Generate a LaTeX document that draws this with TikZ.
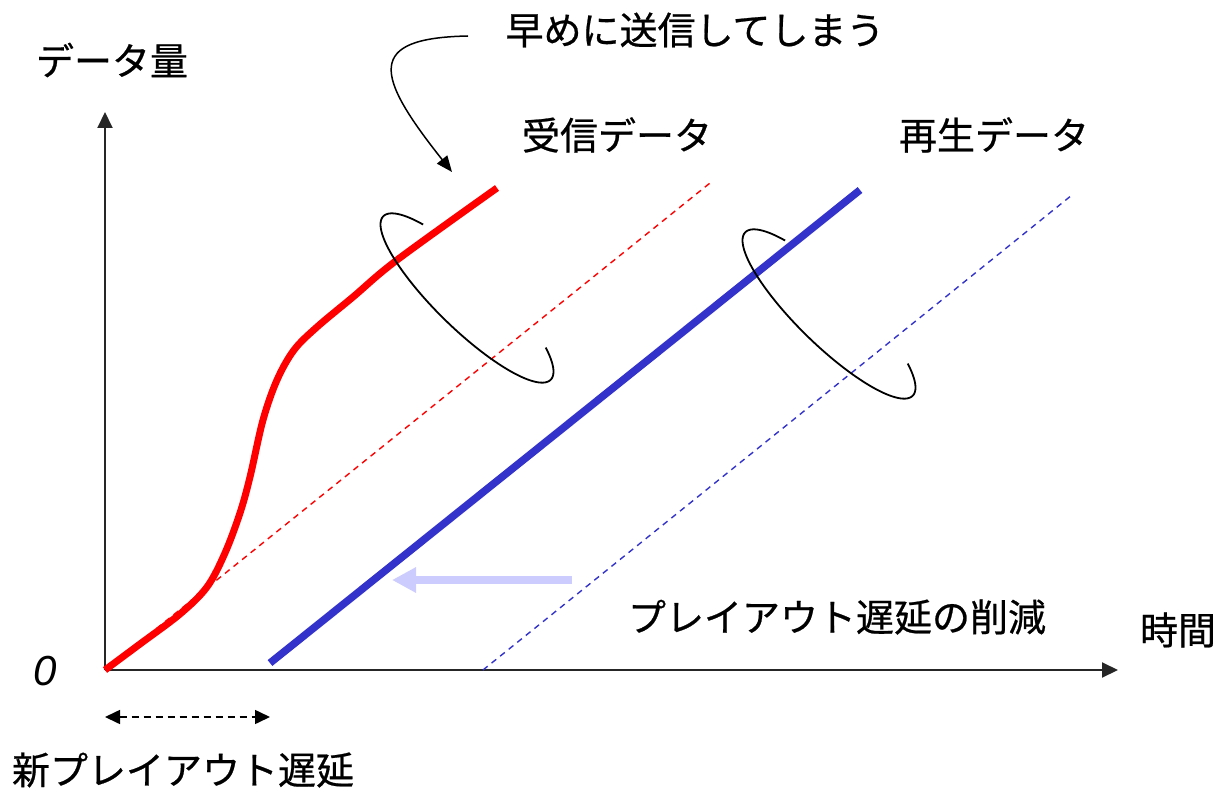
\documentclass[tikz,border=0pt]{standalone}
\usepackage{fontspec}
\newfontfamily\jp[FakeBold=0.6]{Noto Sans CJK JP}
\newfontfamily\lat{Liberation Sans}
\usetikzlibrary{arrows.meta}
\definecolor{rcol}{RGB}{255,0,0}
\definecolor{bcol}{RGB}{51,51,204}
\definecolor{lcol}{RGB}{204,204,255}
\tikzset{
  lbl/.style={font=\jp\fontsize{38}{40}\selectfont, inner sep=0pt, anchor=center},
  axis/.style={line width=2pt, draw=black!85, -{Triangle[length=16pt,width=15pt]}},
  thickred/.style={line width=7pt, draw=rcol},
  thickblue/.style={line width=7.5pt, draw=bcol},
  thinred/.style={line width=1.4pt, draw=rcol, dash pattern=on 6pt off 5pt},
  thinblue/.style={line width=1.4pt, draw=bcol, dash pattern=on 6pt off 5pt},
  ring/.style={line width=1.8pt, draw=black},
}
\begin{document}
\begin{tikzpicture}[x=1pt,y=-1pt]
\useasboundingbox (0,0) rectangle (1223,791);
% coordinates
\coordinate (O) at (105,670);
\coordinate (ytip) at (105,112);
\coordinate (xtip) at (1118,670);
\coordinate (rdEnd) at (710,183);
\coordinate (rEnd) at (497,188);
\coordinate (bS) at (270,663);
\coordinate (bE) at (860,190);
\coordinate (bdS) at (483,670);
\coordinate (bdE) at (1072,195);
\coordinate (dL) at (105,717);
\coordinate (dR) at (270,717);
\coordinate (lS) at (572,580);
\coordinate (lE) at (392,580);
\coordinate (aS) at (468,36);
\coordinate (aE) at (452,172);
% axes
\draw[axis] (O) -- (ytip);
\draw[axis] (O) -- (xtip);
% dashed lines
\draw[thinred] (O) -- (rdEnd);
\draw[thinblue] (bdS) -- (bdE);
% red curve
\draw[thickred, line cap=butt, line join=round] plot[smooth, tension=0.55] coordinates {(105,670) (140,644) (180,614) (207,587) (225,553) (240,513) (250,477) (263,420) (277,380) (294,350) (317,327) (353,297) (397,260) (497,188)};
% blue line
\draw[thickblue] (bS) -- (bE);
% rings
\draw[ring] plot[domain=135:399, samples=120, smooth, variable=\t]
  ({467 + 117*cos(\t)*cos(44.3) + 31*sin(\t)*sin(44.3)},
   {298 + 117*cos(\t)*sin(44.3) - 31*sin(\t)*cos(44.3)});
\draw[ring] plot[domain=135:399, samples=120, smooth, variable=\t]
  ({829 + 117*cos(\t)*cos(44.3) + 31*sin(\t)*sin(44.3)},
   {314 + 117*cos(\t)*sin(44.3) - 31*sin(\t)*cos(44.3)});
% light arrow
\draw[line width=8pt, draw=lcol, -{Triangle[length=24pt,width=24pt]}] (lS) -- (lE);
% dashed double arrow
\draw[line width=1.6pt, dash pattern=on 7pt off 5pt, {Triangle[length=15pt,width=14pt]}-{Triangle[length=15pt,width=14pt]}] (dL) -- (dR);
% annotation arrow
\draw[line width=1.5pt, -{Triangle[length=16pt,width=13pt]}] (aS) .. controls (365,38) and (375,75) .. (aE);
% labels
\node[lbl] (ylab) at (112,60) {データ量};
\node[lbl] (early) at (695,30) {早めに送信してしまう};
\node[lbl] (recv) at (617,135) {受信データ};
\node[lbl] (play) at (994,135) {再生データ};
\node[lbl] (red) at (837,617) {プレイアウト遅延の削減};
\node[lbl] (xlab) at (1178,630) {時間};
\node[lbl, font=\lat\itshape\fontsize{42}{44}\selectfont] (zero) at (45,671) {0};
\node[lbl] (newd) at (183,770) {新プレイアウト遅延};
\end{tikzpicture}
\end{document}
